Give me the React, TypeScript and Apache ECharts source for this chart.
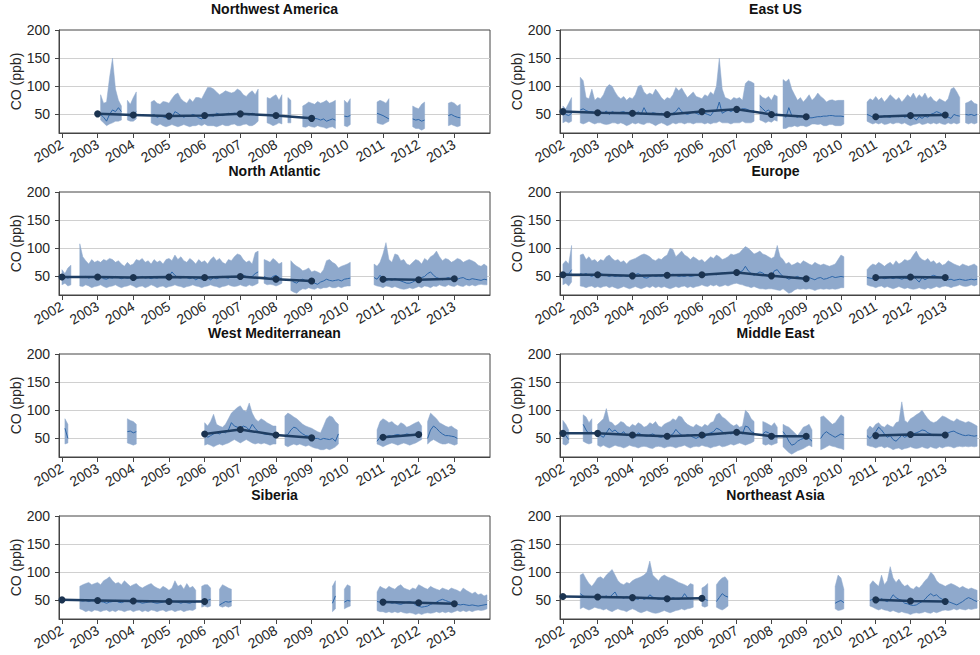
import { useEffect, useRef } from "react";
import * as echarts from "echarts";

// Monthly CO statistics per region. Each segment is a run of consecutive
// months (month index 0 = Jan 2002) holding the upper / lower envelope and
// the monthly mean; annual arrays hold the yearly trend values 2002..2013.
type Segment = { start: number; hi: number[]; lo: number[]; avg: number[] };

const YEARS = [2002, 2003, 2004, 2005, 2006, 2007, 2008, 2009, 2010, 2011, 2012, 2013];
const Y_TICKS = [50, 100, 150, 200];
const GRID_LINES = [50, 100, 150];

const nwaSegments: Segment[] = [
  { start: 13, hi: [85, 70, 72, 115, 150, 95, 75, 65], lo: [40, 35, 30, 33, 35, 38, 38, 40], avg: [50, 45, 38, 50, 58, 55, 62, 55] },
  { start: 22, hi: [75, 68, 80, 90], lo: [40, 38, 38, 42], avg: [48, 47, 50, 55] },
  {
    start: 30,
    hi: [72, 75, 70, 68, 73, 72, 70, 78, 85, 88, 78, 73, 70, 78, 72, 80, 80, 78, 88, 98, 98, 95, 90, 85, 88, 92, 90, 88, 90, 95, 92, 85, 82, 88, 92, 85, 95],
    lo: [35, 32, 30, 33, 30, 28, 30, 32, 30, 28, 30, 32, 30, 28, 30, 30, 32, 30, 33, 30, 30, 30, 28, 30, 32, 30, 30, 32, 33, 30, 30, 32, 33, 30, 30, 33, 38],
    avg: [48, 50, 45, 47, 46, 44, 47, 45, 55, 52, 48, 45, 48, 47, 50, 48, 44, 42, 45, 50, 48, 47, 52, 50, 48, 50, 52, 51, 52, 50, 48, 52, 50, 49, 52, 50, 48],
  },
  { start: 69, hi: [80, 78, 82, 85, 75, 85], lo: [35, 33, 30, 32, 35, 33], avg: [50, 48, 47, 52, 48, 46] },
  { start: 76, hi: [80, 75], lo: [35, 35], avg: [48, 45] },
  {
    start: 81,
    hi: [65, 68, 72, 70, 68, 73, 70, 72, 75, 70, 72, 75],
    lo: [28, 27, 30, 28, 27, 30, 28, 27, 25, 27, 28, 25],
    avg: [45, 44, 42, 43, 43, 42, 40, 42, 38, 40, 42, 40],
  },
  { start: 95, hi: [75, 70, 78], lo: [30, 28, 32], avg: [47, 46, 48] },
  { start: 106, hi: [72, 75, 73, 70, 78], lo: [35, 33, 32, 35, 38], avg: [52, 50, 48, 45, 42] },
  { start: 118, hi: [65, 62, 60, 68, 72], lo: [28, 25, 25, 22, 25], avg: [42, 40, 41, 38, 40] },
  { start: 130, hi: [70, 72, 70, 65, 68], lo: [30, 32, 30, 28, 30], avg: [48, 50, 47, 45, 44] },
];
const nwaAnnual = [null, 51, 49, 47, 48, 51, 48, 43, null, null, null, null];

const eusSegments: Segment[] = [
  { start: 0, hi: [65, 60, 70, 80], lo: [35, 38, 35, 38], avg: [55, 50, 48, 52] },
  {
    start: 6,
    hi: [
      116, 110, 80, 78, 95, 75,
      80, 78, 85, 98, 103, 100, 90, 82, 78, 82, 75, 80,
      78, 85, 100, 102, 90, 85, 88, 85, 95, 88, 80, 75,
      80, 78, 85, 98, 92, 97, 88, 80, 85, 90, 82, 80,
      78, 85, 82, 90, 85, 100, 150, 95, 80, 78, 75, 80,
      78, 80, 75, 105, 110, 108, 105,
    ],
    lo: [
      35, 33, 35, 38, 35, 33,
      35, 35, 33, 32, 33, 35, 35, 33, 35, 33, 30, 32,
      35, 33, 35, 33, 32, 35, 35, 33, 30, 33, 35, 33,
      30, 32, 35, 33, 35, 35, 33, 35, 35, 33, 35, 35,
      35, 33, 35, 33, 35, 35, 38, 35, 35, 35, 33, 35,
      35, 35, 38, 35, 35, 35, 38,
    ],
    avg: [
      58, 60, 57, 55, 55, 53,
      53, 55, 52, 56, 50, 55, 53, 52, 54, 55, 52, 50,
      52, 50, 55, 50, 62, 52, 50, 53, 52, 50, 52, 48,
      50, 48, 52, 55, 62, 55, 52, 50, 52, 55, 52, 50,
      55, 52, 50, 48, 55, 56, 72, 52, 55, 58, 55, 58,
      58, 57, 60, 60, 58, 55, 57,
    ],
  },
  { start: 68, hi: [85, 80, 78, 82, 75, 85, 82], lo: [40, 38, 35, 38, 36, 40, 38], avg: [65, 60, 55, 58, 52, 48, 52] },
  {
    start: 76,
    hi: [112, 108, 113, 95, 85, 75, 80, 72, 78, 85, 75, 80, 88, 82, 78, 72, 75, 76, 74, 75, 75, 75],
    lo: [25, 25, 28, 28, 30, 28, 30, 30, 28, 30, 33, 33, 32, 33, 30, 30, 32, 32, 30, 30, 30, 33],
    avg: [50, 45, 62, 48, 47, 45, 48, 46, 45, 44, 44, 45, 46, 46, 47, 47, 48, 48, 47, 47, 47, 46],
  },
  {
    start: 105,
    hi: [72, 78, 75, 82, 75, 80, 72, 78, 85, 80, 75, 80, 72, 78, 85, 80, 88, 78, 85, 80, 88, 78, 82, 75, 72, 78, 75, 72, 78, 95, 98, 90, 80],
    lo: [38, 35, 33, 35, 33, 35, 32, 33, 35, 33, 35, 35, 33, 35, 32, 30, 32, 33, 35, 32, 33, 35, 33, 35, 33, 35, 33, 32, 35, 33, 35, 33, 35],
    avg: [50, 48, 45, 48, 46, 45, 48, 46, 45, 48, 47, 46, 48, 45, 47, 42, 45, 40, 46, 43, 47, 45, 50, 52, 55, 53, 50, 48, 45, 43, 50, 48, 47],
  },
  { start: 139, hi: [70, 72, 75, 70, 68], lo: [35, 33, 35, 33, 35], avg: [50, 49, 50, 48, 50] },
];
const eusAnnual = [55, 53, 52, 50, 55, 59, 50, 46, null, 46, 48, 49];

const natSegments: Segment[] = [
  { start: 0, hi: [62, 55, 65, 70], lo: [35, 38, 33, 35], avg: [48, 50, 47, 50] },
  {
    start: 6,
    hi: [
      108, 85, 78, 72, 80, 75,
      78, 75, 80, 78, 82, 80, 75, 78, 72, 68, 75, 70,
      72, 80, 78, 82, 75, 78, 72, 80, 75, 78, 72, 80,
      82, 78, 88, 80, 85, 78, 75, 82, 78, 72, 80, 75,
      78, 72, 80, 85, 78, 82, 75, 72, 80, 78, 85, 90,
      88, 80, 75, 78, 72, 92, 95,
    ],
    lo: [
      33, 32, 35, 33, 30, 32,
      33, 35, 32, 30, 32, 33, 35, 32, 30, 32, 33, 35,
      33, 30, 32, 33, 30, 32, 35, 33, 30, 32, 33, 30,
      32, 33, 35, 33, 32, 30, 32, 33, 35, 33, 32, 30,
      32, 33, 35, 33, 32, 30, 32, 33, 35, 33, 32, 33,
      35, 33, 32, 35, 33, 35, 38,
    ],
    avg: [
      50, 48, 50, 47, 49, 48,
      48, 50, 46, 45, 48, 47, 50, 48, 46, 48, 47, 48,
      47, 46, 48, 50, 47, 48, 46, 48, 47, 49, 48, 50,
      50, 58, 52, 48, 47, 50, 48, 46, 48, 44, 47, 45,
      48, 47, 44, 48, 46, 48, 50, 48, 47, 50, 48, 50,
      50, 52, 50, 48, 50, 55, 58,
    ],
  },
  { start: 68, hi: [80, 78, 75, 82, 78, 72, 75], lo: [38, 35, 36, 35, 33, 35, 38], avg: [50, 47, 45, 50, 52, 48, 45] },
  {
    start: 77,
    hi: [78, 72, 68, 65, 60, 62, 65, 58, 60, 58, 55, 62, 78, 80, 75, 72, 65, 68, 70, 72, 75],
    lo: [25, 22, 20, 25, 28, 27, 30, 28, 27, 30, 28, 30, 30, 32, 30, 30, 32, 30, 32, 33, 33],
    avg: [45, 40, 38, 43, 45, 42, 40, 42, 38, 36, 40, 42, 45, 43, 42, 43, 44, 42, 45, 46, 47],
  },
  {
    start: 105,
    hi: [72, 68, 75, 90, 110, 80, 75, 90, 88, 78, 80, 72, 70, 75, 80, 78, 72, 82, 78, 85, 88, 95, 85, 78, 82, 80, 75, 78, 82, 80, 75, 78, 80, 78, 75, 70, 68, 72, 68],
    lo: [35, 33, 32, 30, 33, 32, 30, 32, 30, 28, 27, 28, 30, 28, 30, 32, 30, 33, 32, 30, 33, 32, 35, 33, 32, 35, 33, 32, 35, 33, 32, 35, 33, 35, 33, 35, 36, 35, 35],
    avg: [48, 45, 52, 46, 42, 45, 43, 46, 44, 42, 40, 38, 38, 40, 43, 45, 48, 50, 55, 58, 52, 48, 46, 44, 46, 48, 45, 42, 45, 47, 48, 45, 44, 46, 45, 44, 43, 45, 44],
  },
];
const natAnnual = [49, 49, 48, 49, 48, 50, 45, 42, null, 45, 44, 46];

const eurSegments: Segment[] = [
  { start: 0, hi: [72, 78, 72, 105], lo: [35, 38, 33, 40], avg: [52, 55, 54, 62] },
  {
    start: 6,
    hi: [
      88, 90, 80, 85, 78, 80,
      75, 80, 78, 85, 88, 82, 78, 80, 75, 78, 72, 78,
      80, 82, 85, 88, 90, 88, 85, 80, 78, 82, 80, 85,
      88, 100, 98, 85, 90, 95, 88, 85, 80, 85, 82, 78,
      80, 75, 80, 85, 82, 88, 85, 80, 82, 85, 90, 88,
      90, 92, 98, 103, 100, 95, 90, 92, 95, 90, 88, 85,
      82, 85, 105, 85, 80, 72, 75, 70, 72, 75, 72, 78,
      75, 72, 70, 75, 72, 70, 72, 70, 68, 70, 72, 80,
      88, 85,
    ],
    lo: [
      33, 32, 30, 32, 33, 30,
      32, 30, 32, 33, 30, 32, 30, 28, 30, 32, 30, 28,
      30, 32, 30, 28, 30, 32, 30, 33, 30, 32, 30, 32,
      30, 28, 30, 32, 30, 32, 33, 30, 32, 30, 32, 33,
      35, 33, 32, 35, 33, 35, 32, 33, 35, 33, 35, 37,
      38, 36, 35, 33, 32, 30, 32, 30, 28, 28, 27, 28,
      28, 27, 26, 25, 28, 24, 20, 22, 26, 28, 27, 28,
      27, 28, 27, 25, 27, 28, 27, 28, 27, 28, 27, 28,
      30, 30,
    ],
    avg: [
      55, 53, 55, 52, 50, 53,
      52, 55, 53, 52, 50, 52, 50, 51, 50, 52, 50, 51,
      52, 53, 55, 52, 48, 47, 50, 52, 50, 51, 50, 52,
      50, 52, 54, 52, 50, 51, 50, 52, 50, 51, 52, 53,
      53, 52, 53, 55, 54, 53, 55, 56, 55, 56, 57, 56,
      57, 58, 60, 68, 60, 55, 52, 55, 58, 56, 52, 50,
      50, 60, 62, 55, 50, 48, 45, 47, 48, 50, 47, 45,
      46, 48, 46, 44, 47, 48, 45, 46, 48, 50, 48, 49,
      50, 49,
    ],
  },
  {
    start: 105,
    hi: [
      62, 68, 72,
      70, 75, 72, 68, 72, 75, 70, 78, 72, 75, 80, 78,
      80, 88, 95, 85, 80, 78, 82, 75, 78, 72, 75, 70,
      72, 78, 75, 72, 70, 68, 72, 70, 68, 70, 72, 68,
    ],
    lo: [
      35, 33, 32,
      30, 32, 33, 30, 32, 30, 28, 30, 32, 30, 28, 30,
      28, 27, 28, 30, 28, 27, 30, 28, 30, 32, 30, 32,
      33, 32, 30, 32, 33, 35, 33, 32, 33, 35, 33, 35,
    ],
    avg: [
      48, 47, 46,
      48, 47, 48, 46, 47, 48, 46, 48, 47, 45, 47, 46,
      48, 50, 45, 40, 48, 44, 47, 50, 52, 50, 48, 47,
      46, 44, 45, 43, 44, 45, 44, 43, 44, 45, 44, 45,
    ],
  },
];
const eurAnnual = [53, 53, 51, 52, 53, 57, 51, 46, null, 48, 49, 48];

const wmdSegments: Segment[] = [
  { start: 1, hi: [85, 75], lo: [40, 42], avg: [68, 50] },
  { start: 22, hi: [85, 82, 80, 75], lo: [42, 40, 38, 40], avg: [62, 63, 60, 62] },
  {
    start: 48,
    hi: [78, 72, 80, 93, 75, 72, 70, 75, 85, 95, 100, 105, 108, 100, 98, 113, 95, 85, 80, 85, 82, 78, 75, 72, 72],
    lo: [38, 40, 38, 35, 38, 40, 38, 40, 42, 45, 48, 45, 42, 45, 48, 45, 42, 40, 42, 40, 42, 40, 38, 40, 40],
    avg: [58, 52, 55, 58, 60, 58, 62, 60, 65, 78, 72, 70, 68, 72, 70, 65, 75, 68, 62, 60, 58, 57, 58, 56, 56],
  },
  {
    start: 75,
    hi: [90, 95, 92, 88, 85, 80, 75, 72, 70, 68, 65, 62, 60, 72, 85, 90, 88, 80, 75],
    lo: [38, 35, 38, 40, 38, 40, 38, 36, 38, 35, 33, 32, 30, 30, 32, 30, 32, 35, 40],
    avg: [55, 57, 65, 70, 68, 62, 58, 55, 54, 52, 50, 50, 48, 50, 49, 48, 50, 45, 58],
  },
  {
    start: 106,
    hi: [65, 80, 85, 82, 78, 80, 75, 72, 78, 75, 70, 72, 75, 78, 80, 72],
    lo: [40, 38, 35, 38, 40, 42, 40, 38, 40, 42, 40, 38, 40, 42, 45, 48],
    avg: [45, 52, 55, 53, 55, 54, 56, 57, 55, 56, 58, 57, 56, 58, 57, 60],
  },
  {
    start: 123,
    hi: [80, 95, 90, 85, 78, 75, 72, 70, 72, 68, 65],
    lo: [40, 45, 48, 45, 42, 40, 40, 42, 40, 38, 40],
    avg: [50, 65, 72, 68, 62, 58, 55, 55, 54, 53, 50],
  },
];
const wmdAnnual = [null, null, null, null, 58, 66, 56, 51, null, 52, 57, null];

const mdeSegments: Segment[] = [
  { start: 0, hi: [82, 75, 65], lo: [40, 38, 42], avg: [62, 55, 48] },
  { start: 7, hi: [92, 88, 78, 85], lo: [45, 42, 40, 42], avg: [75, 65, 58, 62] },
  {
    start: 12,
    hi: [
      75, 80, 85, 103, 80, 78, 72, 75, 80, 78, 72, 70,
      75, 72, 78, 75, 70, 72, 78, 75, 80, 72, 70, 75,
      78, 80, 85, 82, 90, 88, 80, 75, 72, 70, 75, 72,
      70, 75, 72, 78, 80, 92, 95, 88, 85, 80, 75, 72,
      75, 70, 72, 100, 95, 85, 80,
    ],
    lo: [
      38, 35, 38, 35, 33, 35, 38, 36, 35, 33, 35, 38,
      36, 35, 33, 35, 36, 35, 33, 32, 35, 36, 35, 33,
      35, 36, 35, 33, 35, 36, 38, 35, 33, 35, 36, 35,
      38, 36, 35, 33, 35, 36, 38, 35, 36, 38, 40, 38,
      40, 42, 40, 38, 40, 42, 45,
    ],
    avg: [
      58, 55, 52, 60, 68, 62, 65, 60, 58, 62, 55, 57,
      55, 52, 60, 57, 55, 54, 56, 58, 55, 53, 52, 55,
      54, 55, 58, 66, 60, 56, 54, 57, 55, 52, 50, 53,
      55, 52, 58, 60, 62, 68, 66, 62, 58, 60, 58, 60,
      62, 60, 58, 72, 70, 62, 60,
    ],
  },
  { start: 69, hi: [80, 78, 75, 72, 78, 70], lo: [40, 38, 40, 38, 40, 42], avg: [58, 62, 60, 55, 56, 53] },
  {
    start: 76,
    hi: [75, 72, 70, 65, 60, 55, 62, 70, 72, 75, 65],
    lo: [35, 30, 25, 22, 25, 28, 30, 32, 35, 38, 35],
    avg: [62, 55, 45, 38, 40, 45, 48, 50, 52, 50, 45],
  },
  {
    start: 89,
    hi: [88, 90, 85, 80, 75, 78, 85, 92, 88],
    lo: [30, 32, 35, 38, 36, 35, 33, 32, 30],
    avg: [50, 58, 62, 58, 55, 52, 55, 58, 56],
  },
  {
    start: 105,
    hi: [
      65, 72, 68,
      75, 78, 72, 70, 75, 72, 70, 78, 80, 115, 82, 78,
      85, 88, 92, 95, 100, 92, 85, 80, 78, 80, 85, 90,
      88, 85, 82, 80, 85, 82, 80, 78, 80, 78, 75, 72,
    ],
    lo: [
      38, 36, 35,
      33, 35, 36, 33, 35, 33, 30, 32, 33, 30, 32, 33,
      35, 33, 32, 33, 35, 33, 32, 35, 33, 32, 35, 33,
      35, 36, 35, 33, 35, 36, 35, 36, 35, 36, 35, 36,
    ],
    avg: [
      55, 50, 55,
      62, 70, 65, 58, 52, 55, 48, 45, 50, 56, 52, 55,
      57, 58, 60, 62, 65, 64, 60, 58, 55, 57, 56, 55,
      56, 60, 62, 63, 60, 58, 56, 55, 56, 55, 54, 55,
    ],
  },
];
const mdeAnnual = [59, 59, 56, 54, 56, 61, 54, 54, null, 55, 57, 56];

const sibSegments: Segment[] = [
  {
    start: 6,
    hi: [
      75, 78, 80, 82, 78, 80,
      82, 78, 85, 88, 92, 85, 80, 82, 78, 85, 80, 75,
      78, 80, 75, 72, 75, 78, 80, 75, 72, 70, 75, 72,
      68, 72, 85, 75, 78, 70, 80, 72, 75, 68,
    ],
    lo: [
      35, 33, 30, 32, 30, 33,
      32, 30, 32, 33, 30, 32, 30, 33, 32, 30, 32, 33,
      30, 32, 33, 30, 32, 30, 33, 32, 30, 32, 33, 30,
      32, 33, 30, 32, 33, 30, 32, 33, 32, 35,
    ],
    avg: [
      50, 49, 50, 48, 50, 51,
      50, 48, 47, 45, 47, 48, 50, 47, 46, 48, 49, 47,
      46, 48, 47, 45, 46, 47, 48, 46, 45, 46, 47, 50,
      52, 49, 48, 47, 45, 47, 46, 45, 47, 46,
    ],
  },
  { start: 47, hi: [75, 78, 78, 72], lo: [38, 40, 38, 40], avg: [48, 47, 50, 52] },
  { start: 53, hi: [70, 78, 75, 72, 70], lo: [40, 38, 40, 38, 40], avg: [42, 45, 48, 47, 48] },
  { start: 91, hi: [75, 85], lo: [30, 35], avg: [45, 58] },
  { start: 95, hi: [70, 78, 75], lo: [35, 38, 40], avg: [47, 50, 49] },
  {
    start: 106,
    hi: [
      65, 75,
      72, 70, 75, 72, 70, 75, 78, 72, 70, 68, 72, 70,
      78, 75, 72, 70, 75, 72, 70, 68, 72, 70, 68, 72,
      70, 68, 65, 72, 68, 65, 62, 65, 60, 62, 58, 60,
    ],
    lo: [
      32, 30,
      30, 28, 30, 28, 30, 28, 30, 28, 27, 28, 27, 25,
      27, 25, 27, 28, 27, 28, 30, 28, 30, 28, 30, 28,
      30, 32, 30, 32, 30, 32, 30, 32, 33, 32, 33, 35,
    ],
    avg: [
      48, 47,
      45, 46, 47, 45, 46, 44, 43, 45, 47, 48, 46, 42,
      40, 38, 39, 40, 43, 45, 47, 50, 52, 50, 48, 46,
      44, 43, 42, 43, 42, 41, 42, 41, 40, 41, 42, 43,
    ],
  },
];
const sibAnnual = [51, 50, 49, 48, 48, null, null, null, null, 47, 46, 44];

const neaSegments: Segment[] = [
  {
    start: 6,
    hi: [
      95, 98, 88, 80, 75, 82,
      90, 92, 88, 95, 100, 105, 95, 85, 80, 78, 82, 80,
      85, 88, 90, 92, 95, 100, 120, 95, 90, 85, 92, 95,
      92, 90, 88, 85, 82, 80, 78, 75, 80, 78,
    ],
    lo: [
      35, 38, 35, 33, 35, 38,
      36, 35, 33, 35, 32, 30, 33, 35, 33, 32, 30, 33,
      35, 33, 30, 28, 30, 32, 30, 28, 27, 28, 30, 32,
      30, 28, 30, 32, 33, 35, 33, 35, 36, 38,
    ],
    avg: [
      62, 58, 56, 55, 57, 56,
      54, 55, 56, 58, 55, 60, 65, 55, 56, 54, 57, 55,
      54, 53, 52, 55, 52, 54, 60, 56, 54, 52, 53, 55,
      53, 52, 55, 53, 52, 54, 62, 55, 53, 54,
    ],
  },
  { start: 48, hi: [72, 75, 80], lo: [40, 38, 40], avg: [54, 52, 50] },
  { start: 53, hi: [78, 85, 90, 92, 85], lo: [38, 35, 33, 36, 40], avg: [48, 55, 62, 58, 56] },
  { start: 94, hi: [75, 95, 90, 70], lo: [35, 32, 33, 35], avg: [45, 48, 50, 46] },
  {
    start: 106,
    hi: [
      78, 85,
      80, 75, 95, 78, 85, 110, 90, 82, 88, 80, 75, 78,
      72, 70, 75, 72, 78, 85, 90, 100, 95, 85, 80, 78,
      75, 78, 80, 78, 75, 72, 75, 72, 70, 72, 70, 68,
    ],
    lo: [
      40, 38,
      35, 33, 35, 33, 32, 30, 32, 30, 28, 30, 28, 27,
      25, 27, 28, 27, 28, 30, 28, 27, 30, 28, 30, 32,
      33, 32, 33, 35, 33, 35, 34, 33, 35, 34, 35, 36,
    ],
    avg: [
      50, 52,
      50, 48, 53, 50, 48, 52, 60, 55, 52, 50, 45, 44,
      42, 41, 42, 45, 48, 52, 58, 62, 58, 60, 55, 52,
      50, 48, 46, 44, 42, 45, 48, 52, 55, 53, 50, 48,
    ],
  },
];
const neaAnnual = [57, 56, 55, 53, 54, null, null, null, null, 51, 49, 48];

const panels = [
  { title: "Northwest America", segments: nwaSegments, annual: nwaAnnual },
  { title: "East US", segments: eusSegments, annual: eusAnnual },
  { title: "North Atlantic", segments: natSegments, annual: natAnnual },
  { title: "Europe", segments: eurSegments, annual: eurAnnual },
  { title: "West Mediterranean", segments: wmdSegments, annual: wmdAnnual },
  { title: "Middle East", segments: mdeSegments, annual: mdeAnnual },
  { title: "Siberia", segments: sibSegments, annual: sibAnnual },
  { title: "Northeast Asia", segments: neaSegments, annual: neaAnnual },
];

// Layout and styling
const COL_LEFT = [59, 560];
const ROW_TOP = [30, 192, 354, 516];
const PLOT_W = 431;
const PLOT_H = 103;
const X_MIN = 2002 - 1 / 12;
const X_MAX = 2014;
const Y_MIN = 17;
const Y_MAX = 200;

const FONT = "'Liberation Sans', Arial, Helvetica, sans-serif";
const TEXT = "#262626";
const AXIS = "#444444";
const GRID = "#d0d0d0";
const BAND = "#8fa9cc";
const MEAN = "#2d66a8";
const TREND = "#1f3e63";
const DOT = "#1b3350";

const monthTime = (i: number) => 2002 + i / 12;

function linePoints(segs: Segment[]) {
  const pts: (number | null)[][] = [];
  segs.forEach((s) => {
    s.avg.forEach((v, k) => pts.push([monthTime(s.start + k), v]));
    pts.push([monthTime(s.start + s.avg.length), null]);
  });
  return pts;
}

function buildOption() {
  const grids: any[] = [];
  const xAxes: any[] = [];
  const yAxes: any[] = [];
  const series: any[] = [];
  const graphics: any[] = [];

  panels.forEach((panel, p) => {
    const left = COL_LEFT[p % 2];
    const top = ROW_TOP[Math.floor(p / 2)];

    grids.push({
      left,
      top,
      width: PLOT_W,
      height: PLOT_H,
      show: true,
      borderColor: AXIS,
      borderWidth: 1,
      backgroundColor: "transparent",
      containLabel: false,
    });

    xAxes.push({
      type: "value",
      gridIndex: p,
      min: X_MIN,
      max: X_MAX,
      axisLine: { show: true, onZero: false, lineStyle: { color: AXIS, width: 1 } },
      axisTick: { show: true, length: 5, lineStyle: { color: AXIS }, customValues: YEARS },
      axisLabel: {
        customValues: YEARS,
        rotate: 30,
        margin: 10,
        fontSize: 14,
        color: TEXT,
        fontFamily: FONT,
        formatter: (v: number) => String(Math.round(v)),
      },
      splitLine: { show: false },
    });

    yAxes.push({
      type: "value",
      gridIndex: p,
      min: Y_MIN,
      max: Y_MAX,
      name: "CO (ppb)",
      nameLocation: "middle",
      nameGap: 33,
      nameTextStyle: { fontSize: 14, color: TEXT, fontFamily: FONT },
      axisLine: { show: true, lineStyle: { color: AXIS, width: 1 } },
      axisTick: { show: true, length: 4, lineStyle: { color: AXIS }, customValues: Y_TICKS },
      axisLabel: {
        customValues: Y_TICKS,
        margin: 9,
        fontSize: 14,
        color: TEXT,
        fontFamily: FONT,
      },
      splitLine: { show: false },
    });

    // horizontal reference lines
    series.push({
      type: "line",
      xAxisIndex: p,
      yAxisIndex: p,
      data: [],
      silent: true,
      z: 0,
      markLine: {
        silent: true,
        z: 0,
        symbol: "none",
        animation: false,
        label: { show: false },
        lineStyle: { color: GRID, width: 1, type: "solid" },
        emphasis: { disabled: true },
        data: GRID_LINES.map((v) => ({ yAxis: v })),
      },
    });

    // envelope: one filled polygon per continuous run of months
    const segs = panel.segments;
    series.push({
      type: "custom",
      xAxisIndex: p,
      yAxisIndex: p,
      silent: true,
      z: 2,
      data: segs.map((s) => [monthTime(s.start), s.lo[0]]),
      encode: { x: 0, y: 1 },
      renderItem: (params: any, api: any) => {
        const s = segs[params.dataIndex];
        const upper = s.hi.map((v, k) => api.coord([monthTime(s.start + k), v]));
        const lower = s.lo.map((v, k) => api.coord([monthTime(s.start + k), v])).reverse();
        return {
          type: "polygon",
          shape: { points: upper.concat(lower) },
          style: { fill: BAND, stroke: BAND, lineWidth: 0.5 },
        };
      },
    });

    // monthly mean
    series.push({
      type: "line",
      xAxisIndex: p,
      yAxisIndex: p,
      data: linePoints(segs),
      symbol: "none",
      silent: true,
      z: 3,
      lineStyle: { color: MEAN, width: 1 },
    });

    // annual trend with markers
    series.push({
      type: "line",
      xAxisIndex: p,
      yAxisIndex: p,
      data: YEARS.map((y, k) => [y, panel.annual[k]]),
      symbol: "circle",
      symbolSize: 7,
      showAllSymbol: true,
      silent: true,
      z: 4,
      lineStyle: { color: TREND, width: 2.5 },
      itemStyle: { color: DOT, borderColor: DOT, borderWidth: 0 },
    });

    graphics.push({
      type: "text",
      x: left + PLOT_W / 2,
      y: top - 21,
      style: {
        text: panel.title,
        fill: "#111",
        font: `bold 14px ${FONT}`,
        textAlign: "center",
        textVerticalAlign: "middle",
      },
    });
  });

  return {
    animation: false,
    backgroundColor: "#ffffff",
    grid: grids,
    xAxis: xAxes,
    yAxis: yAxes,
    series,
    graphic: graphics,
  };
}

export default function App() {
  const ref = useRef<HTMLDivElement>(null);

  useEffect(() => {
    if (!ref.current) return;
    const chart = echarts.init(ref.current, undefined, { renderer: "svg" });
    chart.setOption(buildOption() as any);
    return () => chart.dispose();
  }, []);

  return (
    <div
      ref={ref}
      style={{ position: "absolute", left: 0, top: 0, width: 980, height: 655, overflow: "hidden", background: "#fff" }}
    />
  );
}
